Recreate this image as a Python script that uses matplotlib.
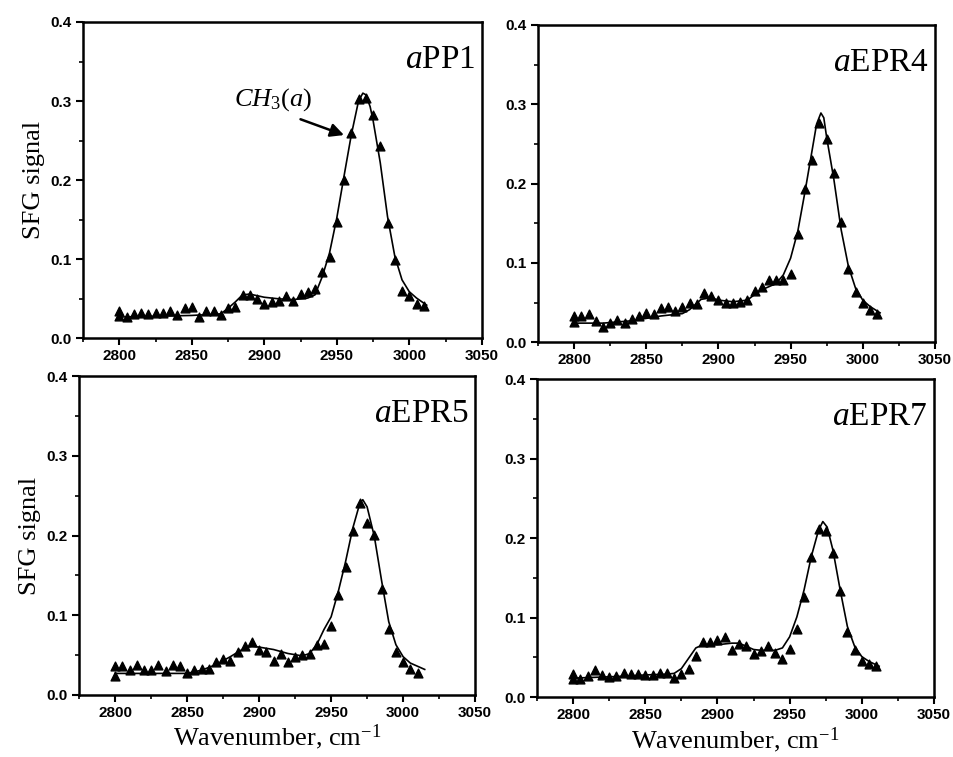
import matplotlib
matplotlib.use("Agg")
import matplotlib.pyplot as plt
from matplotlib.ticker import MultipleLocator

serif = "Liberation Serif"
plt.rcParams["mathtext.fontset"] = "custom"
plt.rcParams["mathtext.rm"] = serif
plt.rcParams["mathtext.it"] = serif + ":italic"
plt.rcParams["mathtext.bf"] = serif + ":bold"

# wavenumber grid of the measured points (cm-1)
wn = [2800, 2805, 2810, 2815, 2820, 2825, 2830, 2835, 2840, 2845, 2850,
      2855, 2860, 2865, 2870, 2875, 2880, 2885, 2890, 2895, 2900, 2905,
      2910, 2915, 2920, 2925, 2930, 2935, 2940, 2945, 2950, 2955, 2960,
      2965, 2970, 2975, 2980, 2985, 2990, 2995, 3000, 3005, 3010]

# measured SFG signal (triangles)
pp1_pts = [0.034, 0.027, 0.031, 0.032, 0.031, 0.032, 0.032, 0.034, 0.029, 0.039, 0.040,
           0.027, 0.034, 0.034, 0.029, 0.038, 0.040, 0.055, 0.055, 0.050, 0.044, 0.046,
           0.047, 0.054, 0.047, 0.056, 0.058, 0.063, 0.084, 0.103, 0.147, 0.200, 0.259,
           0.302, 0.304, 0.283, 0.243, 0.146, 0.099, 0.060, 0.054, 0.044, 0.041]
epr4_pts = [0.033, 0.033, 0.036, 0.027, 0.019, 0.024, 0.028, 0.024, 0.029, 0.033, 0.037,
            0.035, 0.043, 0.044, 0.039, 0.044, 0.049, 0.048, 0.062, 0.058, 0.053, 0.050,
            0.050, 0.051, 0.053, 0.064, 0.069, 0.079, 0.079, 0.078, 0.086, 0.137, 0.193,
            0.230, 0.277, 0.256, 0.213, 0.152, 0.092, 0.063, 0.049, 0.040, 0.036]
epr5_pts = [0.036, 0.036, 0.031, 0.037, 0.031, 0.031, 0.038, 0.030, 0.038, 0.036, 0.027,
            0.031, 0.032, 0.033, 0.041, 0.045, 0.042, 0.054, 0.062, 0.067, 0.056, 0.054,
            0.043, 0.051, 0.041, 0.047, 0.050, 0.051, 0.063, 0.064, 0.086, 0.125, 0.160,
            0.206, 0.241, 0.216, 0.201, 0.133, 0.083, 0.054, 0.041, 0.033, 0.028]
epr7_pts = [0.029, 0.023, 0.027, 0.034, 0.028, 0.025, 0.027, 0.031, 0.029, 0.029, 0.028,
            0.028, 0.030, 0.031, 0.024, 0.029, 0.036, 0.052, 0.069, 0.069, 0.072, 0.076,
            0.059, 0.067, 0.064, 0.054, 0.058, 0.065, 0.055, 0.048, 0.061, 0.086, 0.126,
            0.176, 0.212, 0.209, 0.181, 0.134, 0.082, 0.059, 0.046, 0.042, 0.039]
# second point recorded at 2800 in every panel
extra_2800 = [0.028, 0.026, 0.024, 0.023]

# fitted curves (solid lines)
pp1_fx = [2800, 2850, 2860, 2870, 2875, 2880, 2885, 2890, 2895, 2900, 2910, 2920, 2930,
          2935, 2940, 2945, 2950, 2955, 2960, 2965, 2968, 2970, 2973, 2975, 2980, 2985,
          2990, 2995, 3000, 3005, 3012]
pp1_fy = [0.027, 0.029, 0.030, 0.031, 0.038, 0.046, 0.055, 0.056, 0.054, 0.052, 0.050,
          0.049, 0.051, 0.055, 0.078, 0.108, 0.152, 0.205, 0.257, 0.300, 0.310, 0.308,
          0.293, 0.276, 0.222, 0.154, 0.104, 0.074, 0.059, 0.051, 0.042]
epr4_fx = [2800, 2820, 2840, 2860, 2875, 2880, 2888, 2895, 2900, 2910, 2920, 2925, 2930,
           2940, 2945, 2950, 2955, 2960, 2965, 2968, 2971, 2973, 2975, 2980, 2985, 2990,
           2995, 3000, 3005, 3012]
epr4_fy = [0.024, 0.024, 0.027, 0.033, 0.036, 0.041, 0.054, 0.056, 0.053, 0.051, 0.053,
           0.060, 0.066, 0.074, 0.085, 0.106, 0.140, 0.190, 0.243, 0.275, 0.289, 0.283,
           0.258, 0.205, 0.142, 0.096, 0.068, 0.053, 0.045, 0.037]
epr5_fx = [2800, 2850, 2860, 2870, 2880, 2890, 2895, 2900, 2910, 2920, 2930, 2935, 2940,
           2945, 2950, 2955, 2960, 2965, 2970, 2972, 2975, 2980, 2985, 2990, 2995, 3000,
           3005, 3015]
epr5_fy = [0.027, 0.027, 0.031, 0.038, 0.048, 0.059, 0.061, 0.060, 0.057, 0.052, 0.049,
           0.052, 0.063, 0.082, 0.098, 0.130, 0.167, 0.209, 0.241, 0.245, 0.236, 0.199,
           0.144, 0.092, 0.063, 0.048, 0.040, 0.032]
epr7_fx = [2800, 2830, 2850, 2865, 2870, 2875, 2880, 2885, 2890, 2900, 2910, 2915, 2920,
           2925, 2930, 2940, 2945, 2950, 2955, 2960, 2965, 2970, 2973, 2976, 2980, 2985,
           2990, 2995, 3000, 3005, 3012]
epr7_fy = [0.024, 0.026, 0.028, 0.029, 0.030, 0.036, 0.049, 0.062, 0.066, 0.066, 0.068,
           0.068, 0.064, 0.060, 0.059, 0.059, 0.062, 0.076, 0.101, 0.135, 0.177, 0.210,
           0.221, 0.214, 0.185, 0.135, 0.089, 0.064, 0.051, 0.045, 0.039]

names = ["PP1", "EPR4", "EPR5", "EPR7"]
points = [pp1_pts, epr4_pts, epr5_pts, epr7_pts]
fits_x = [pp1_fx, epr4_fx, epr5_fx, epr7_fx]
fits_y = [pp1_fy, epr4_fy, epr5_fy, epr7_fy]

# axes rectangles in figure fractions
rects = [[0.087, 0.553, 0.418, 0.418],
         [0.564, 0.548, 0.416, 0.419],
         [0.083, 0.082, 0.415, 0.421],
         [0.563, 0.079, 0.416, 0.420]]

tick_font = {"family": "Liberation Sans", "weight": "bold", "size": 11}

fig = plt.figure(figsize=(9.54, 7.57), dpi=100)

for i in range(4):
    ax = fig.add_axes(rects[i])
    ax.plot(fits_x[i], fits_y[i], color="black", lw=1.2, zorder=2)
    ax.scatter(wn, points[i], marker="^", s=40, color="black", zorder=3)
    ax.scatter([wn[0]], [extra_2800[i]], marker="^", s=40, color="black", zorder=3)

    ax.set_xlim(2775, 3050)
    ax.set_ylim(0, 0.4)
    ax.xaxis.set_minor_locator(MultipleLocator(25))
    ax.yaxis.set_minor_locator(MultipleLocator(0.05))
    ax.tick_params(which="major", direction="out", length=5, width=1.5, pad=3)
    ax.tick_params(which="minor", direction="out", length=3, width=1.2)
    ax.set_xticks([2800, 2850, 2900, 2950, 3000, 3050])
    ax.set_xticklabels(["2800", "2850", "2900", "2950", "3000", "3050"], fontdict=tick_font)
    ax.set_yticks([0.0, 0.1, 0.2, 0.3, 0.4])
    ax.set_yticklabels(["0.0", "0.1", "0.2", "0.3", "0.4"], fontdict=tick_font)
    for sp in ax.spines.values():
        sp.set_linewidth(1.8)

    ax.text(0.985, 0.93, r"$\mathit{a}$" + names[i], transform=ax.transAxes,
            ha="right", va="top", fontsize=24, family=serif)

    if i % 2 == 0:
        ax.set_ylabel("SFG signal", fontsize=19, family=serif, labelpad=4)
    if i >= 2:
        ax.set_xlabel(r"Wavenumber, cm$^{\mathrm{-1}}$", fontsize=19, family=serif, labelpad=2)

    if i == 0:
        ax.text(2906, 0.302, r"$CH_3(a)$", ha="center", va="center", fontsize=19)
        ax.annotate("", xy=(2955, 0.257), xytext=(2925, 0.277),
                    arrowprops=dict(arrowstyle="-|>", color="black", lw=1.8,
                                    mutation_scale=20, shrinkA=0, shrinkB=0))

fig.savefig("out.png", dpi=100)
